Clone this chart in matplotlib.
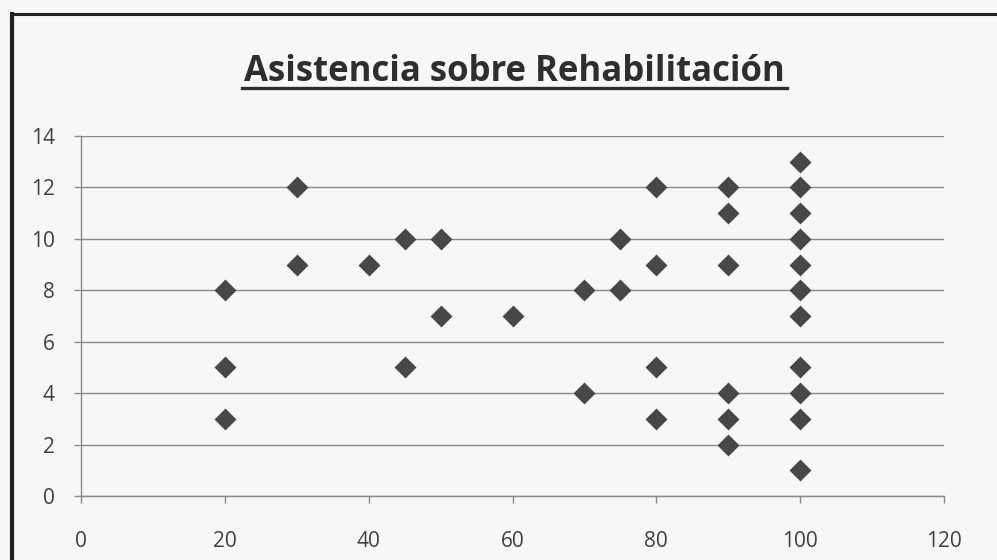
import matplotlib
matplotlib.use("Agg")
import matplotlib.pyplot as plt
from matplotlib.patches import Rectangle

# Data
asistencia = [20, 20, 20, 30, 30, 40, 45, 45, 50, 50, 60, 70, 70, 75, 75,
              80, 80, 80, 80, 90, 90, 90, 90, 90, 90,
              100, 100, 100, 100, 100, 100, 100, 100, 100, 100, 100]
rehabilitacion = [8, 5, 3, 12, 9, 9, 10, 5, 10, 7, 7, 8, 4, 10, 8,
                  12, 9, 5, 3, 12, 11, 9, 4, 3, 2,
                  13, 12, 11, 10, 9, 8, 7, 5, 4, 3, 1]
x_ticks = [0, 20, 40, 60, 80, 100, 120]
y_ticks = [0, 2, 4, 6, 8, 10, 12, 14]
title = "Asistencia sobre Rehabilitación"

W, H = 997, 560
fig = plt.figure(figsize=(W / 100, H / 100), dpi=100)
bg = "#f7f7f5"
fig.patch.set_facecolor(bg)

# outer chart border (extends beyond right/bottom edges)
fig.patches.append(Rectangle((11.5 / W, -0.05), 1.1, 1 - 14 / H + 0.05,
                             transform=fig.transFigure, fill=False,
                             edgecolor="#222222", linewidth=2.2))
# left border is thicker in the reference
fig.add_artist(plt.Line2D([11.5 / W, 11.5 / W], [0, 1 - 14 / H],
                          color="#222222", linewidth=3.0))

ax = fig.add_axes([81 / W, 1 - 496 / H, (944 - 81) / W, (496 - 136) / H])
ax.set_facecolor(bg)
ax.scatter(asistencia, rehabilitacion, marker="D", s=125, color="#474747",
           zorder=3, linewidths=0)

ax.set_xlim(0, 120)
ax.set_ylim(0, 14)
ax.set_xticks(x_ticks)
ax.set_yticks(y_ticks)
ax.yaxis.grid(True, color="#8a8a8a", linewidth=1.0)
ax.set_axisbelow(True)
for s in ["top", "right"]:
    ax.spines[s].set_visible(False)
for s in ["left", "bottom"]:
    ax.spines[s].set_color("#8a8a8a")
    ax.spines[s].set_linewidth(1.0)
ax.tick_params(axis="both", colors="#8a8a8a", length=5, width=1,
               labelcolor="#404040", labelsize=15)
ax.tick_params(axis="y", pad=14)
ax.tick_params(axis="x", pad=20)
for lab in ax.get_xticklabels() + ax.get_yticklabels():
    lab.set_fontfamily("Open Sans")

fig.text(514.5 / W, 1 - 81 / H, title, ha="center", va="baseline",
         fontsize=25, fontweight="bold", fontfamily="Open Sans",
         color="#2e2e2e")
# underline
fig.add_artist(plt.Line2D([242 / W, 787 / W], [1 - 88 / H, 1 - 88 / H],
                          color="#2e2e2e", linewidth=2.4))

fig.savefig("out.png", dpi=100, facecolor=bg)
